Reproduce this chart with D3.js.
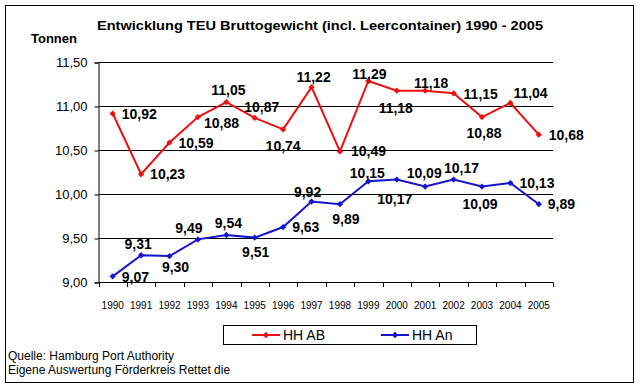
<!DOCTYPE html>
<html>
<head>
<meta charset="utf-8">
<script src="https://cdn.jsdelivr.net/npm/d3@7"></script>
<style>
  body { margin: 0; background: #fff; }
  svg { display: block; font-family: Arial, "Liberation Sans", sans-serif; }
</style>
</head>
<body>
<svg id="chart" width="640" height="387"></svg>
<script>
// chart data
const years = ["1990", "1991", "1992", "1993", "1994", "1995", "1996", "1997",
  "1998", "1999", "2000", "2001", "2002", "2003", "2004", "2005"];
const hhAB = [10.92, 10.23, 10.59, 10.88, 11.05, 10.87, 10.74, 11.22,
  10.49, 11.29, 11.18, 11.18, 11.15, 10.88, 11.04, 10.68];
const hhAn = [9.07, 9.31, 9.30, 9.49, 9.54, 9.51, 9.63, 9.92,
  9.89, 10.15, 10.17, 10.09, 10.17, 10.09, 10.13, 9.89];
const yTicks = [9.0, 9.5, 10.0, 10.5, 11.0, 11.5];
const seriesNames = ["HH AB", "HH An"];

// label placement (hand placed in the original), [dx, dy, anchor]
const abLabelPos = [[9, 0, "start"], [9, 0, "start"], [9, 0, "start"], [6, 6, "start"],
  [2, -12, "middle"], [7, -11, "middle"], [0, 17, "middle"], [2, -10, "middle"],
  [11, 0, "start"], [1, -7, "middle"], [-1, 17, "middle"], [6, -8, "middle"],
  [10, 1, "start"], [2, 16, "middle"], [3, -10, "start"], [10, 0, "start"]];
const anLabelPos = [[9, 1, "start"], [-3, -11, "middle"], [6, 11, "middle"], [-9, -11, "middle"],
  [2, -12, "middle"], [1, 14, "middle"], [9, 0, "start"], [-4, -10, "middle"],
  [6, 15, "middle"], [-1, -8, "middle"], [-2, 19, "middle"], [-1, -14, "middle"],
  [8, -12, "middle"], [-2, 17, "middle"], [9, 0, "start"], [9, 0, "start"]];

const red = "#ec1010";
const blue = "#1414cc";

const de = d3.formatLocale({ decimal: ",", thousands: ".", grouping: [3], currency: ["", " €"] });
const fmt = de.format(".2f");

const svg = d3.select("#chart");

// outer frame
svg.append("rect")
  .attr("x", 5.5).attr("y", 5.5)
  .attr("width", 628).attr("height", 377)
  .attr("fill", "#fff").attr("stroke", "#000");

const x = d3.scaleBand().domain(years).range([98.5, 553]).padding(0);
const y = d3.scaleLinear().domain([9, 11.5]).range([282.5, 62.5]);
const cx = d => x(d) + x.bandwidth() / 2;

// gridlines
svg.append("g")
  .selectAll("line")
  .data(yTicks)
  .join("line")
  .attr("x1", 98.5).attr("x2", 553)
  .attr("y1", d => y(d)).attr("y2", d => y(d))
  .attr("stroke", "#000");

// y axis
const yAxis = svg.append("g")
  .attr("transform", "translate(98.5,0)")
  .call(d3.axisLeft(y).tickValues(yTicks).tickFormat(fmt).tickSize(4).tickPadding(7));
yAxis.select(".domain").attr("stroke", "#000");
yAxis.selectAll("text").attr("font-size", 13).attr("font-family", null).attr("fill", "#000");

// x axis: ticks on band edges, labels in the middle
const xEdges = years.map(d => x(d)).concat([x(years[years.length - 1]) + x.bandwidth()]);
svg.append("g")
  .selectAll("line")
  .data(xEdges)
  .join("line")
  .attr("x1", d => Math.round(d) + 0.5).attr("x2", d => Math.round(d) + 0.5)
  .attr("y1", 282.5).attr("y2", 287)
  .attr("stroke", "#000");

svg.append("g")
  .selectAll("text")
  .data(years)
  .join("text")
  .attr("x", d => cx(d))
  .attr("y", 305)
  .attr("text-anchor", "middle")
  .attr("dominant-baseline", "central")
  .attr("font-size", 10)
  .text(d => d);

// series
function drawSeries(values, color, labelPos) {
  const pts = years.map((yr, i) => ({ yr, v: values[i], pos: labelPos[i] }));
  const line = d3.line().x(d => cx(d.yr)).y(d => y(d.v));
  svg.append("path")
    .datum(pts)
    .attr("fill", "none")
    .attr("stroke", color)
    .attr("stroke-width", 2)
    .attr("d", line);

  svg.append("g")
    .selectAll("path")
    .data(pts)
    .join("path")
    .attr("d", d3.symbol(d3.symbolSquare, 20))
    .attr("transform", d => `translate(${cx(d.yr)},${y(d.v)}) rotate(45)`)
    .attr("fill", color);

  svg.append("g")
    .selectAll("text")
    .data(pts)
    .join("text")
    .attr("x", d => cx(d.yr) + d.pos[0])
    .attr("y", d => y(d.v) + d.pos[1])
    .attr("text-anchor", d => d.pos[2])
    .attr("dominant-baseline", "central")
    .attr("font-size", 14)
    .attr("font-weight", "bold")
    .text(d => fmt(d.v));
}

drawSeries(hhAB, red, abLabelPos);
drawSeries(hhAn, blue, anLabelPos);

// title and axis caption
svg.append("text")
  .attr("x", 320).attr("y", 25)
  .attr("text-anchor", "middle")
  .attr("dominant-baseline", "central")
  .attr("font-size", 13.5)
  .attr("font-weight", "bold")
  .attr("textLength", 446)
  .attr("lengthAdjust", "spacingAndGlyphs")
  .text("Entwicklung TEU Bruttogewicht (incl. Leercontainer) 1990 - 2005");

svg.append("text")
  .attr("x", 31).attr("y", 38)
  .attr("dominant-baseline", "central")
  .attr("font-size", 13)
  .attr("font-weight", "bold")
  .text("Tonnen");

// legend
const legend = svg.append("g");
legend.append("rect")
  .attr("x", 223.5).attr("y", 325.5)
  .attr("width", 253).attr("height", 19)
  .attr("fill", "#fff").attr("stroke", "#000");

const legendX = [252, 381];
[red, blue].forEach((c, i) => {
  const g = legend.append("g").attr("transform", `translate(${legendX[i]},335)`);
  g.append("line").attr("x1", 0).attr("x2", 28).attr("stroke", c).attr("stroke-width", 2);
  g.append("path")
    .attr("d", d3.symbol(d3.symbolSquare, 20))
    .attr("transform", "translate(14,0) rotate(45)")
    .attr("fill", c);
  g.append("text")
    .attr("x", 31)
    .attr("dominant-baseline", "central")
    .attr("font-size", 14)
    .text(seriesNames[i]);
});

// source notes
const notes = ["Quelle: Hamburg Port Authority", "Eigene Auswertung Förderkreis Rettet die"];
svg.append("g")
  .selectAll("text")
  .data(notes)
  .join("text")
  .attr("x", 8)
  .attr("y", (d, i) => 356 + i * 14)
  .attr("dominant-baseline", "central")
  .attr("font-size", 12)
  .text(d => d);
</script>
</body>
</html>
